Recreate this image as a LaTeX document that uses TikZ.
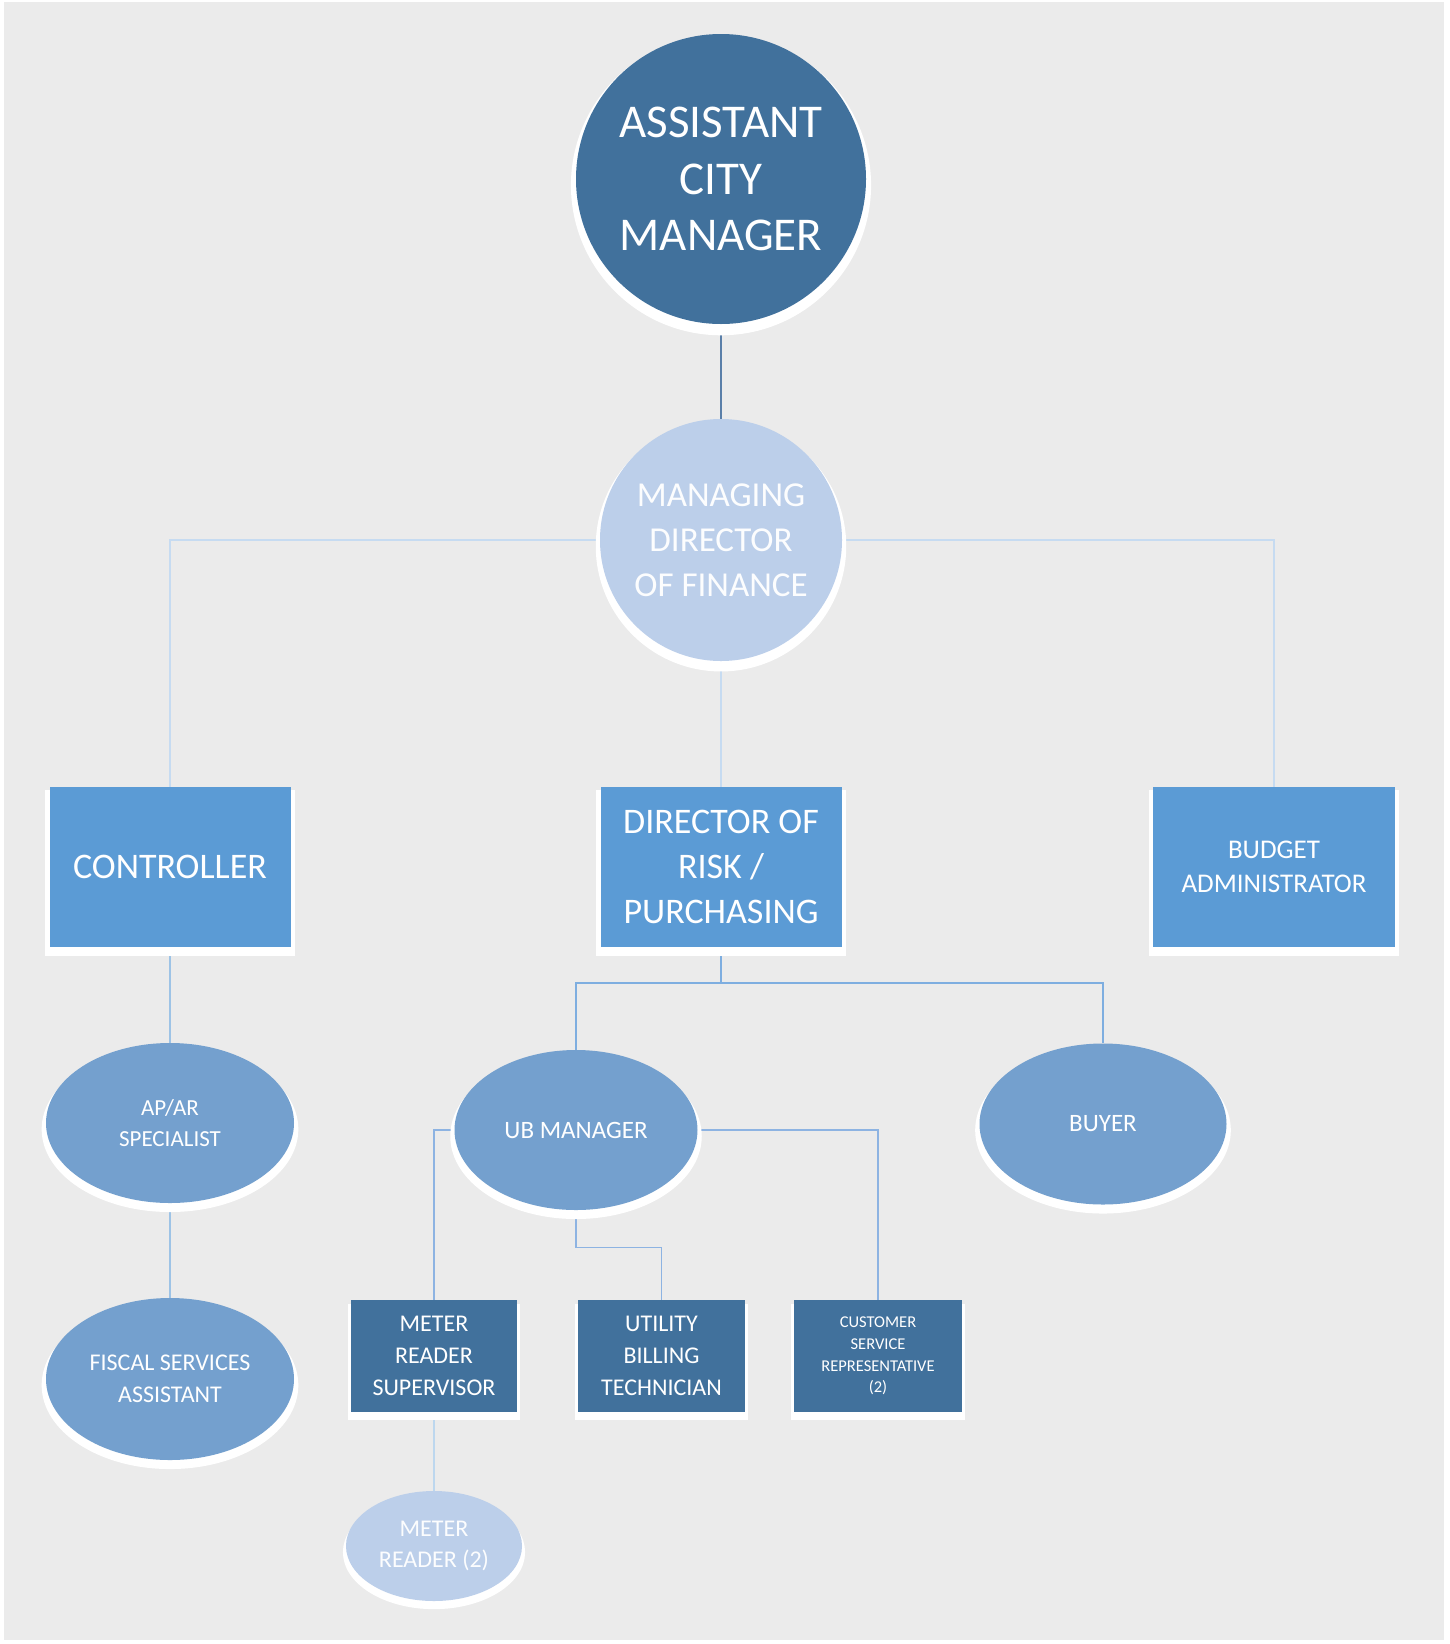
\documentclass[tikz,border=0pt]{standalone}
\usepackage{fontspec}
\setmainfont{Carlito}
\usetikzlibrary{shapes.geometric,shadows,backgrounds}
\definecolor{bgc}{HTML}{EBEBEB}
\definecolor{darkc}{HTML}{41719C}
\definecolor{lightc}{HTML}{BCCFEA}
\definecolor{midc}{HTML}{5B9BD5}
\definecolor{ellc}{HTML}{74A0CE}
\definecolor{lnA}{HTML}{5A7FA9}
\definecolor{lnB}{HTML}{C6DBF1}
\definecolor{lnC}{HTML}{9DC3E6}
\definecolor{lnD}{HTML}{7EAEE0}
\definecolor{lnE}{HTML}{8DB3E2}
\definecolor{lnF}{HTML}{BDD7EE}
\newcommand{\fs}[2]{\fontsize{#1}{#2}\selectfont}
\tikzset{
  glow/.style={general shadow={fill=white, shadow yshift=-6pt, shadow scale=1.035}},
  txt/.style={text=white, align=center, inner sep=0pt},
  bigcirc/.style={circle, minimum size=#1, glow, txt},
  boxnode/.style={rectangle, glow, txt},
  ellnode/.style={ellipse, glow, txt},
}
\begin{document}
\begin{tikzpicture}[x=1pt,y=-1pt]
\useasboundingbox (0,0) rectangle (1450,1644);

\node[bigcirc=290pt, fill=darkc, font=\fs{47}{56.7}] (acm) at (721,179) {ASSISTANT\\CITY\\MANAGER};
\node[bigcirc=242pt, fill=lightc, font=\fs{35}{45}, text=white!95!lightc] (mdf) at (721,540) {MANAGING\\DIRECTOR\\OF FINANCE};

\node[boxnode, fill=midc, minimum width=241pt, minimum height=160pt, font=\fs{36}{45}] (ctrl) at (170,867) {CONTROLLER};
\node[boxnode, fill=midc, minimum width=241pt, minimum height=160pt, font=\fs{36}{45}] (dir) at (721,867) {DIRECTOR OF\\RISK /\\PURCHASING};
\node[boxnode, fill=midc, minimum width=242pt, minimum height=160pt, font=\fs{27}{34.3}] (budget) at (1274,867) {BUDGET\\ADMINISTRATOR};

\node[ellnode, fill=ellc, minimum width=248pt, minimum height=160pt, font=\fs{23}{31}] (apar) at (170,1123) {AP/AR\\SPECIALIST};
\node[ellnode, fill=ellc, minimum width=248pt, minimum height=162pt, font=\fs{24}{31.7}] (fiscal) at (170,1379) {FISCAL SERVICES\\ASSISTANT};
\node[ellnode, fill=ellc, minimum width=243pt, minimum height=160pt, font=\fs{25}{30}] (ub) at (576,1130) {UB MANAGER};
\node[ellnode, fill=ellc, minimum width=247pt, minimum height=161pt, font=\fs{25}{30}] (buyer) at (1103,1124) {BUYER};

\node[boxnode, fill=darkc, minimum width=166pt, minimum height=112pt, font=\fs{24}{32}] (mrs) at (434,1356) {METER\\READER\\SUPERVISOR};
\node[boxnode, fill=darkc, minimum width=167pt, minimum height=112pt, font=\fs{24}{32}] (ubt) at (661.5,1356) {UTILITY\\BILLING\\TECHNICIAN};
\node[boxnode, fill=darkc, minimum width=168pt, minimum height=112pt, font=\fs{16.5}{21.7}] (csr) at (878,1356) {CUSTOMER\\SERVICE\\REPRESENTATIVE\\(2)};

\node[ellnode, fill=lightc, minimum width=176pt, minimum height=110pt, font=\fs{24}{31.5}, text=white!95!lightc] (mr) at (434,1546) {METER\\READER (2)};

\begin{scope}[on background layer]
  \fill[white] (0,0) rectangle (1450,1644);
  \fill[bgc] (4,2) rectangle (1444,1640);
  \draw[lnA, line width=2pt] (acm.south) -- (mdf.north);
  \draw[lnB, line width=1.3pt] (mdf.west) -| (ctrl.north);
  \draw[lnB, line width=1.3pt] (mdf.east) -| (budget.north);
  \draw[lnB, line width=1.3pt] (mdf.south) -- (dir.north);
  \draw[lnC, line width=2pt] (ctrl.south) -- (apar.north);
  \draw[lnC, line width=2pt] (apar.south) -- (fiscal.north);
  \coordinate (br) at ([yshift=-36pt]dir.south);
  \draw[lnD, line width=1.5pt] (dir.south) -- (br) -| (ub.north);
  \draw[lnD, line width=1.5pt] (br) -| (buyer.north);
  \draw[lnE, line width=1.3pt] (ub.west) -| (mrs.north);
  \draw[lnE, line width=1.3pt] (ub.east) -| (csr.north);
  \coordinate (ubb) at ([yshift=-37pt]ub.south);
  \draw[lnE, line width=1.3pt] (ub.south) -- (ubb) -| (ubt.north);
  \draw[lnF, line width=1.2pt] (mrs.south) -- (mr.north);
\end{scope}
\end{tikzpicture}
\end{document}
